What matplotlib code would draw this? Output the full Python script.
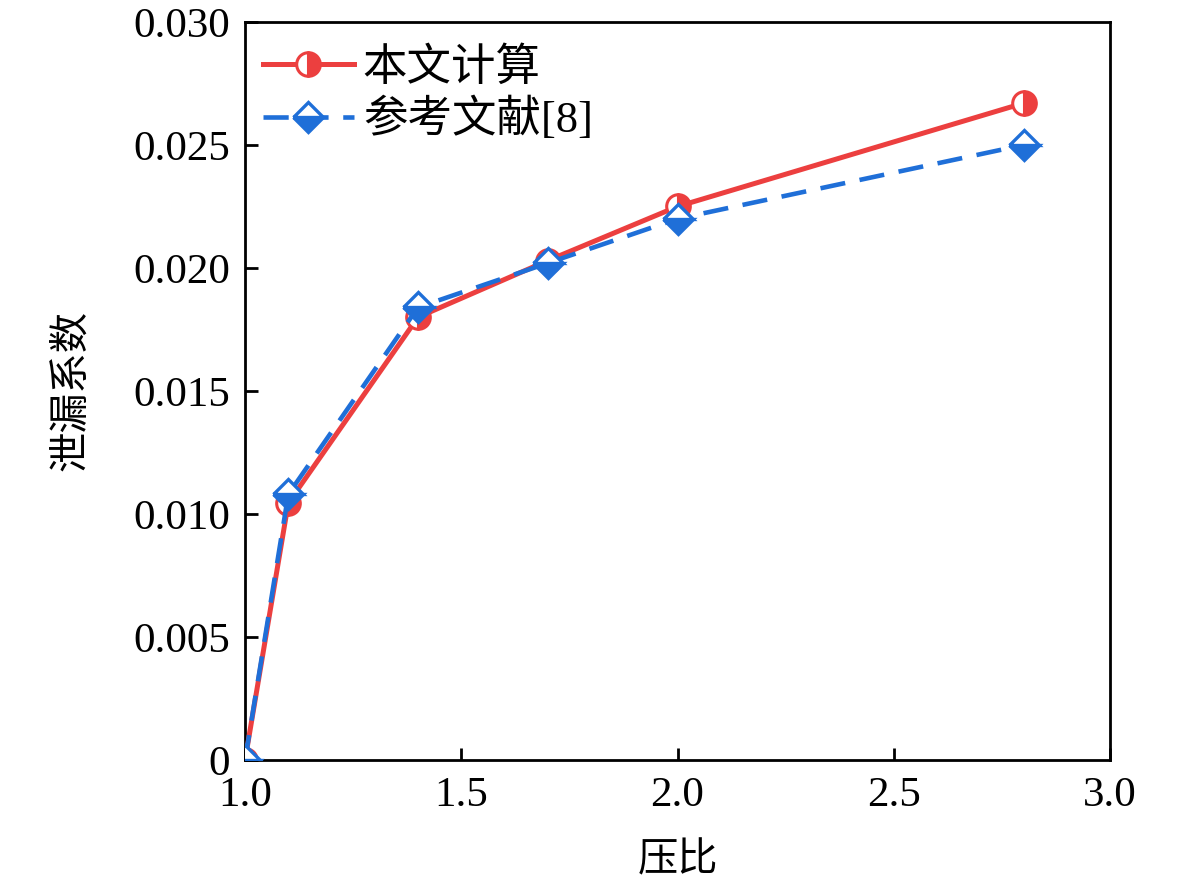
import matplotlib
matplotlib.use("Agg")
from matplotlib import pyplot as plt

# Data
pressure_ratio = [1.0, 1.1, 1.4, 1.7, 2.0, 2.8]
leak_calc = [0.0, 0.01045, 0.0180, 0.0203, 0.0225, 0.0267]
leak_ref = [0.0, 0.0108, 0.0184, 0.0202, 0.0220, 0.0250]

x_ticks = [1.0, 1.5, 2.0, 2.5, 3.0]
y_ticks = [0, 0.005, 0.010, 0.015, 0.020, 0.025, 0.030]
y_tick_labels = ["0", "0.005", "0.010", "0.015", "0.020", "0.025", "0.030"]

red = "#EC3F3F"
blue = "#1F6FD8"
fonts = ["Liberation Serif", "Noto Sans CJK SC"]

plt.rcParams["font.family"] = fonts
plt.rcParams["axes.unicode_minus"] = False

fig = plt.figure(figsize=(11.81, 8.94), dpi=100)
ax = fig.add_axes([0.2075, 0.1499, 0.7324, 0.8255])

ax.plot(pressure_ratio, leak_calc, color=red, lw=3.6, marker="o",
        markersize=17, fillstyle="right", markerfacecolor=red,
        markerfacecoloralt="white", markeredgecolor=red,
        markeredgewidth=2.2, label="本文计算", zorder=3)
ax.plot(pressure_ratio, leak_ref, color=blue, lw=3.3, ls="--",
        dashes=(5.5, 3.2), marker="D", markersize=15,
        fillstyle="bottom", markerfacecolor=blue,
        markerfacecoloralt="white", markeredgecolor=blue,
        markeredgewidth=2.4, label="参考文献[8]", zorder=4)

ax.set_xlim(1.0, 3.0)
ax.set_ylim(0, 0.030)
ax.set_xticks(x_ticks)
ax.set_xticklabels([f"{v:.1f}" for v in x_ticks])
ax.set_yticks(y_ticks)
ax.set_yticklabels(y_tick_labels)

ax.tick_params(direction="in", length=9, width=2.0, labelsize=31)
ax.tick_params(axis="x", pad=12)
ax.tick_params(axis="y", pad=11)
for sp in ax.spines.values():
    sp.set_linewidth(2.0)

ax.set_xlabel("压比", fontsize=29, labelpad=20)
ax.set_ylabel("泄漏系数", fontsize=29, labelpad=30)

leg = ax.legend(loc="upper left", frameon=False, fontsize=32,
                handlelength=2.05, handletextpad=0.2, labelspacing=0.2,
                borderaxespad=0.0, bbox_to_anchor=(0.0, 0.99))

fig.savefig("out.png", dpi=100)
